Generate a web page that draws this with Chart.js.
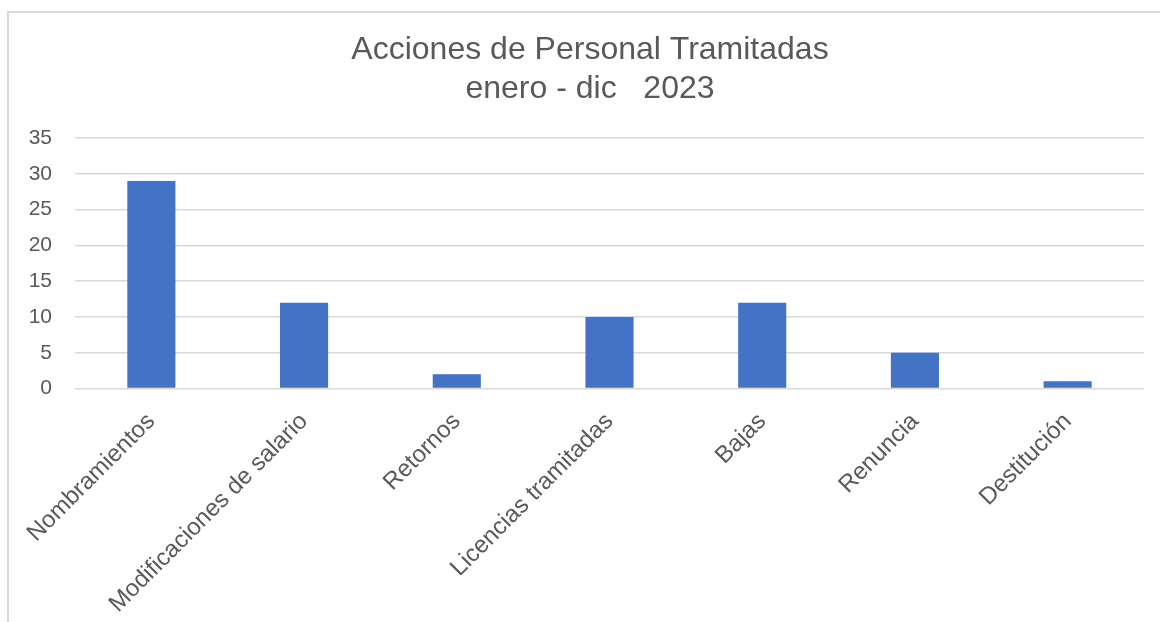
<!DOCTYPE html>
<html lang="es">
<head>
<meta charset="UTF-8">
<title>Acciones de Personal Tramitadas</title>
<script src="https://cdn.jsdelivr.net/npm/chart.js"></script>
<style>
  html, body { margin: 0; padding: 0; background: #fff; overflow: hidden; }
  #frame {
    position: absolute; left: 7px; top: 11px;
    width: 1180px; height: 640px;
    border: 2px solid #d9d9d9;
  }
  #wrap { position: absolute; left: 0; top: 0; width: 1162px; height: 609px; }
</style>
</head>
<body>
<div id="frame">
  <div id="wrap"><canvas id="chart"></canvas></div>
</div>
<script>
// datos
const categorias = ['Nombramientos', 'Modificaciones de salario', 'Retornos', 'Licencias tramitadas', 'Bajas', 'Renuncia', 'Destitución'];
const acciones = [29, 12, 2, 10, 12, 5, 1];
const titulo = ['Acciones de Personal Tramitadas', 'enero - dic   2023'];
const yMin = 0, yMax = 35, yPaso = 5;

const gris = '#595959';
const fuente = '"Liberation Sans", Arial, sans-serif';

// el título va centrado en todo el marco, no sólo en el área con padding
const centrarTitulo = {
  id: 'centrarTitulo',
  afterLayout(chart) {
    const t = chart.titleBlock;
    if (t) {
      t.right = chart.width;
      t.width = t.right - t.left;
    }
  }
};

const ctx = document.getElementById('chart').getContext('2d');
window.chart = new Chart(ctx, {
  type: 'bar',
  data: {
    labels: categorias,
    datasets: [{
      label: 'Acciones',
      data: acciones,
      backgroundColor: '#4472C4',
      borderWidth: 0,
      categoryPercentage: 1,
      barPercentage: 0.315
    }]
  },
  options: {
    responsive: true,
    maintainAspectRatio: false,
    animation: false,
    layout: { padding: { left: 0, right: 27, top: 0, bottom: 0 } },
    plugins: {
      legend: { display: false },
      tooltip: { enabled: false },
      title: {
        display: true,
        text: titulo,
        color: gris,
        font: { family: fuente, size: 32, weight: 'normal', lineHeight: 1.22 },
        padding: { top: 18, bottom: 29 }
      }
    },
    scales: {
      x: {
        grid: { display: false },
        border: { display: false },
        ticks: {
          color: gris,
          font: { family: fuente, size: 24 },
          minRotation: 45,
          maxRotation: 45,
          autoSkip: false,
          padding: 11
        },
        afterFit: (scale) => { scale.height = 233.5; }
      },
      y: {
        min: yMin,
        max: yMax,
        border: { display: false },
        grid: { color: '#d9d9d9', lineWidth: 1.5, drawTicks: false },
        ticks: {
          stepSize: yPaso,
          color: gris,
          font: { family: fuente, size: 21 },
          padding: 23
        },
        afterFit: (scale) => { scale.width = 66; }
      }
    }
  },
  plugins: [centrarTitulo]
});
</script>
</body>
</html>
